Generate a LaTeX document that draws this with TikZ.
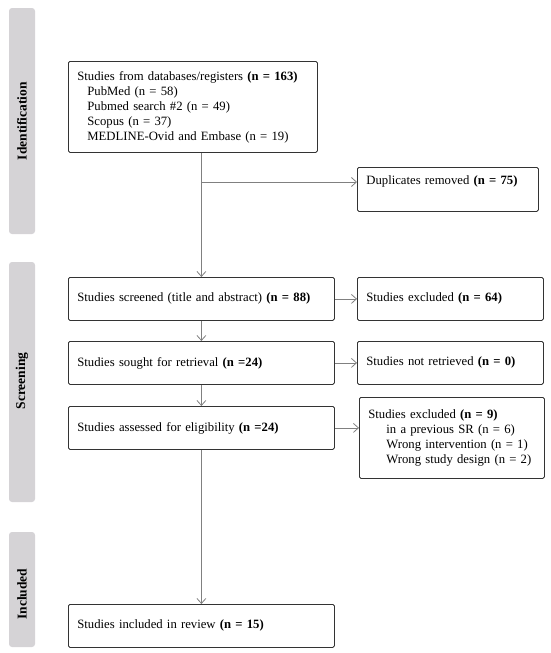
\documentclass[tikz,border=0pt]{standalone}
\usepackage{fontspec}
\setmainfont{Liberation Serif}
\usetikzlibrary{arrows.meta}
\definecolor{bargray}{RGB}{213,211,214}
\definecolor{linegray}{RGB}{128,128,128}
\tikzset{
  stage/.style={fill=bargray, rounded corners=3pt},
  stagelabel/.style={rotate=90, font=\fontsize{13.5}{15}\selectfont\bfseries},
  flowbox/.style={draw=black!80, line width=0.8pt, rounded corners=1.5pt, inner xsep=9pt, align=left, anchor=north west},
  arr/.style={draw=linegray, line width=0.8pt, -{Straight Barb[length=5pt,width=9pt]}},
}
\begin{document}
\begin{tikzpicture}[x=1pt,y=-1pt,font=\fontsize{12.7}{15}\selectfont]
\useasboundingbox (0,0) rectangle (550,653);
\fill[stage] (9,8) rectangle (35,234);
\fill[stage] (9,262) rectangle (35,502);
\fill[stage] (9,532) rectangle (35,647);
\node[stagelabel] (lid) at (22,121) {Identification};
\node[stagelabel] (lscr) at (22,381) {Screening};
\node[stagelabel] (linc) at (22,594) {Included};
\node[flowbox, minimum width=249pt, minimum height=91pt, text width=231pt] (src) at (68,61)
  {Studies from databases/registers \textbf{(n = 163)}\\
   \hspace*{10pt}PubMed (n = 58)\\
   \hspace*{10pt}Pubmed search \#2 (n = 49)\\
   \hspace*{10pt}Scopus (n = 37)\\
   \hspace*{10pt}MEDLINE-Ovid and Embase (n = 19)};
\node[flowbox, minimum width=181pt, minimum height=44pt, text width=163pt] (dup) at (357,167)
  {Duplicates removed \textbf{(n = 75)}\\\strut};
\node[flowbox, minimum width=266pt, minimum height=43pt, text width=248pt] (scr) at (68,277)
  {Studies screened (title and abstract) \textbf{(n = 88)}};
\node[flowbox, minimum width=186pt, minimum height=43pt, text width=168pt] (exc) at (357,277)
  {Studies excluded \textbf{(n = 64)}};
\node[flowbox, minimum width=266pt, minimum height=43pt, text width=248pt] (ret) at (68,341)
  {Studies sought for retrieval \textbf{(n =24)}};
\node[flowbox, minimum width=186pt, minimum height=43pt, text width=168pt] (nret) at (357,341)
  {Studies not retrieved \textbf{(n = 0)}};
\node[flowbox, minimum width=266pt, minimum height=43pt, text width=248pt] (elig) at (68,406)
  {Studies assessed for eligibility \textbf{(n =24)}};
\node[flowbox, minimum width=185pt, minimum height=81pt, text width=167pt] (exc9) at (359,397)
  {Studies excluded \textbf{(n = 9)}\\
   \hspace*{18pt}in a previous SR (n = 6)\\
   \hspace*{18pt}Wrong intervention (n = 1)\\
   \hspace*{18pt}Wrong study design (n = 2)};
\node[flowbox, minimum width=266pt, minimum height=43pt, text width=248pt] (incl) at (68,604)
  {Studies included in review \textbf{(n = 15)}};
\coordinate (split) at (scr.north |- 0,182);
\draw[arr] (src.south -| scr.north) -- (scr.north);
\draw[arr] (split) -- (split -| dup.west);
\draw[arr] (scr.east) -- (exc.west);
\draw[arr] (ret.east) -- (nret.west);
\draw[arr] (elig.east) -- (elig.east -| exc9.west);
\draw[arr] (scr.south) -- (ret.north);
\draw[arr] (ret.south) -- (elig.north);
\draw[arr] (elig.south) -- (incl.north);
\end{tikzpicture}
\end{document}
